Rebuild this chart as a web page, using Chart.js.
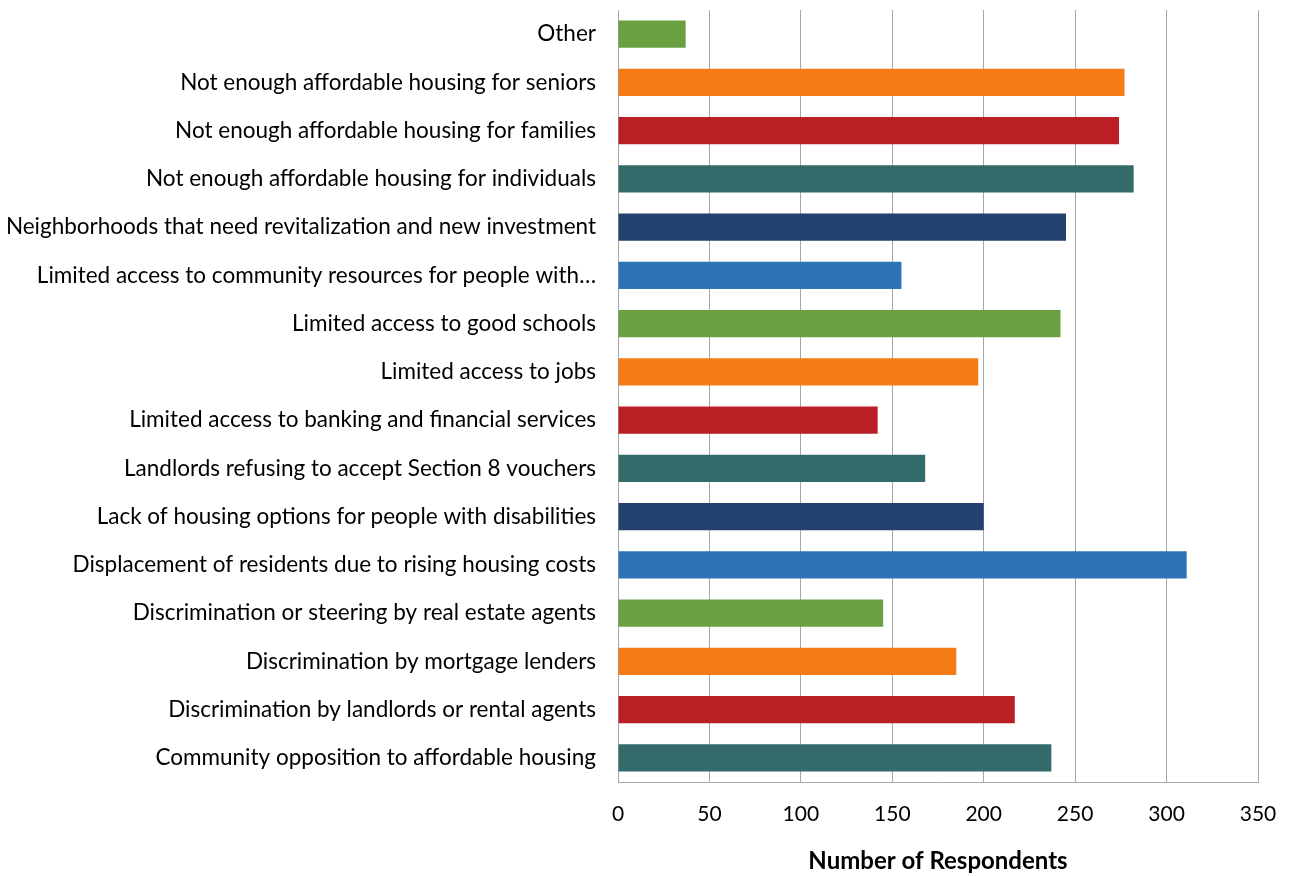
<!DOCTYPE html>
<html>
<head>
<meta charset="utf-8">
<script src="https://cdn.jsdelivr.net/npm/chart.js@4"></script>
<style>
  html, body { margin: 0; padding: 0; background: #fff; }
  #wrap { width: 1289px; height: 876px; }
</style>
</head>
<body>
<div id="wrap"><canvas id="grafico"></canvas></div>
<script>
// categorias, de cima para baixo
var categorias = [
    "Other",
    "Not enough affordable housing for seniors",
    "Not enough affordable housing for families",
    "Not enough affordable housing for individuals",
    "Neighborhoods that need revitalization and new investment",
    "Limited access to community resources for people with\u2026",
    "Limited access to good schools",
    "Limited access to jobs",
    "Limited access to banking and financial services",
    "Landlords refusing to accept Section 8 vouchers",
    "Lack of housing options for people with disabilities",
    "Displacement of residents due to rising housing costs",
    "Discrimination or steering by real estate agents",
    "Discrimination by mortgage lenders",
    "Discrimination by landlords or rental agents",
    "Community opposition to affordable housing"
];

var respondentes = [37, 277, 274, 282, 245, 155, 242, 197, 142, 168, 200, 311, 145, 185, 217, 237];

var cores = [
    "#6AA042", "#F47B16", "#BA1F25", "#336B6B", "#24406E", "#2E72B8",
    "#6AA042", "#F47B16", "#BA1F25", "#336B6B", "#24406E", "#2E72B8",
    "#6AA042", "#F47B16", "#BA1F25", "#336B6B"
];

var ticksX = [0, 50, 100, 150, 200, 250, 300, 350];

var fonte = "Lato, 'Open Sans', sans-serif";

var ctx = document.getElementById("grafico");
var _grafico = new Chart(ctx, {
    type: "bar",
    data: {
        labels: categorias,
        datasets: [{
            data: respondentes,
            backgroundColor: cores,
            borderWidth: 0,
            categoryPercentage: 1,
            barPercentage: 0.5625
        }]
    },
    options: {
        indexAxis: "y",
        responsive: true,
        maintainAspectRatio: false,
        animation: false,
        layout: { padding: { top: 10, right: 31, left: 0, bottom: 0 } },
        plugins: {
            legend: { display: false },
            tooltip: { enabled: false }
        },
        scales: {
            x: {
                min: 0,
                max: 350,
                afterBuildTicks: function (scale) {
                    scale.ticks = ticksX.map(function (v) { return { value: v }; });
                },
                grid: { color: "#A6A6A6", lineWidth: 1, drawTicks: false },
                border: { color: "#A6A6A6", width: 1 },
                ticks: {
                    color: "#000",
                    padding: 20,
                    font: { family: fonte, size: 21 }
                },
                title: {
                    display: true,
                    text: "Number of Respondents",
                    color: "#000",
                    padding: { top: 14, bottom: 0 },
                    font: { family: fonte, size: 24, weight: "bold" }
                },
                afterFit: function (scale) {
                    scale.height = 94;
                    scale.paddingLeft = 0;
                    scale.paddingRight = 0;
                }
            },
            y: {
                grid: { display: false, drawTicks: false },
                border: { color: "#A6A6A6", width: 1 },
                ticks: {
                    color: "#000",
                    padding: 22,
                    autoSkip: false,
                    font: { family: fonte, size: 22.5 }
                },
                afterFit: function (scale) {
                    scale.width = 618;
                    scale.paddingTop = 0;
                    scale.paddingBottom = 0;
                }
            }
        }
    }
});
</script>
</body>
</html>
